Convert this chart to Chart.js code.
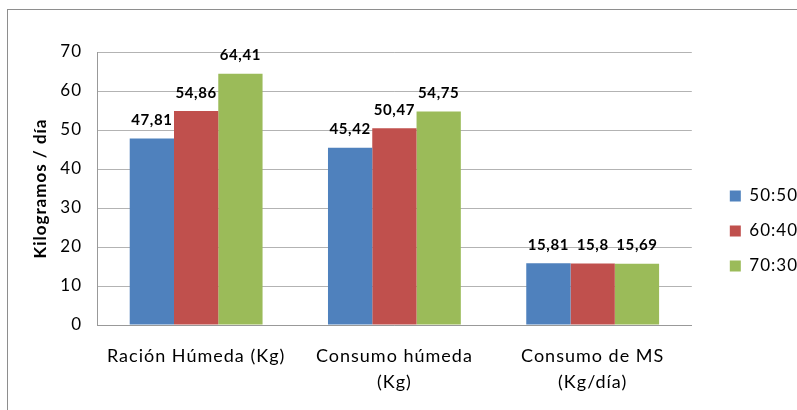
<!DOCTYPE html>
<html>
<head>
<meta charset="utf-8">
<style>
  html, body { margin: 0; padding: 0; background: #ffffff; }
  canvas { display: block; }
</style>
<script src="https://cdn.jsdelivr.net/npm/chart.js@4.4.1/dist/chart.umd.min.js"></script>
</head>
<body>
<canvas id="chart" width="797" height="410"></canvas>
<script>
// Categories (multi-line axis labels)
const categories = [
  ['Ración Húmeda (Kg)'],
  ['Consumo húmeda', '(Kg)'],
  ['Consumo de MS', '(Kg/día)']
];

// Series
const seriesNames = ['50:50', '60:40', '70:30'];
const values5050 = [47.81, 45.42, 15.81];
const values6040 = [54.86, 50.47, 15.8];
const values7030 = [64.41, 54.75, 15.69];

// Value axis
const yMin = 0;
const yMax = 70;
const yStep = 10;
const yTitle = 'Kilogramos / día';

const seriesColors = ['#4F81BD', '#C0504D', '#9BBB59'];

Chart.defaults.font.family = 'Lato, "Open Sans", sans-serif';
Chart.defaults.color = '#000000';

// Slightly spaced lettering for all chart text
const spacing = {
  id: 'spacing',
  beforeUpdate(chart) { chart.ctx.letterSpacing = '1px'; },
  beforeDraw(chart) { chart.ctx.letterSpacing = '1px'; }
};

// Outer frame around the whole chart
const frame = {
  id: 'frame',
  beforeDraw(chart) {
    const ctx = chart.ctx;
    ctx.save();
    ctx.fillStyle = '#ffffff';
    ctx.fillRect(0, 0, chart.width, chart.height);
    ctx.strokeStyle = '#8e8e8e';
    ctx.lineWidth = 1;
    ctx.strokeRect(7.5, 9.5, chart.width + 10, chart.height + 10);
    ctx.restore();
  }
};

// Legend sits a little away from the plot area
const legendGap = {
  id: 'legendGap',
  afterLayout(chart) {
    const lg = chart.legend;
    if (!lg) return;
    const dx = chart.chartArea.right + 20 - lg.left;
    lg.left += dx;
    lg.right += dx;
  }
};

// Value labels above each bar
const valueLabels = {
  id: 'valueLabels',
  afterDatasetsDraw(chart) {
    const ctx = chart.ctx;
    ctx.save();
    ctx.font = 'bold 15px Lato, "Open Sans", sans-serif';
    ctx.letterSpacing = '0.6px';
    ctx.fillStyle = '#000000';
    ctx.textAlign = 'center';
    ctx.textBaseline = 'alphabetic';
    chart.data.datasets.forEach((ds, di) => {
      const meta = chart.getDatasetMeta(di);
      meta.data.forEach((bar, i) => {
        const txt = String(ds.data[i]).replace('.', ',');
        ctx.fillText(txt, bar.x, bar.y - 13.5);
      });
    });
    ctx.restore();
  }
};

new Chart(document.getElementById('chart'), {
  type: 'bar',
  data: {
    labels: categories,
    datasets: [
      { label: seriesNames[0], data: values5050, backgroundColor: seriesColors[0] },
      { label: seriesNames[1], data: values6040, backgroundColor: seriesColors[1] },
      { label: seriesNames[2], data: values7030, backgroundColor: seriesColors[2] }
    ]
  },
  options: {
    responsive: false,
    animation: false,
    devicePixelRatio: 1,
    layout: { padding: { top: 52, left: 0, right: 9, bottom: 0 } },
    datasets: {
      bar: { categoryPercentage: 0.67, barPercentage: 1.0, borderWidth: 0 }
    },
    plugins: {
      legend: {
        position: 'right',
        align: 'center',
        labels: {
          boxWidth: 11,
          boxHeight: 11,
          padding: 18,
          color: '#000000',
          font: { size: 17 }
        }
      },
      tooltip: { enabled: false },
      title: { display: false }
    },
    scales: {
      x: {
        grid: { display: false, drawTicks: false },
        border: { display: true, color: '#999999', width: 1 },
        ticks: {
          padding: 19,
          maxRotation: 0,
          autoSkip: false,
          font: { size: 18, lineHeight: 1.4 },
          color: '#000000'
        },
        afterFit(scale) { scale.height = 85; }
      },
      y: {
        min: yMin,
        max: yMax,
        grid: { color: '#b3b3b3', lineWidth: 1, drawTicks: false },
        border: { display: true, color: '#999999', width: 1 },
        ticks: {
          stepSize: yStep,
          padding: 15,
          font: { size: 17 },
          color: '#000000'
        },
        title: {
          display: true,
          text: yTitle,
          font: { size: 17, weight: 'bold' },
          color: '#000000',
          padding: { top: 30, bottom: 0 }
        },
        afterFit(scale) { scale.width = 97; }
      }
    }
  },
  plugins: [spacing, frame, legendGap, valueLabels]
});
</script>
</body>
</html>
